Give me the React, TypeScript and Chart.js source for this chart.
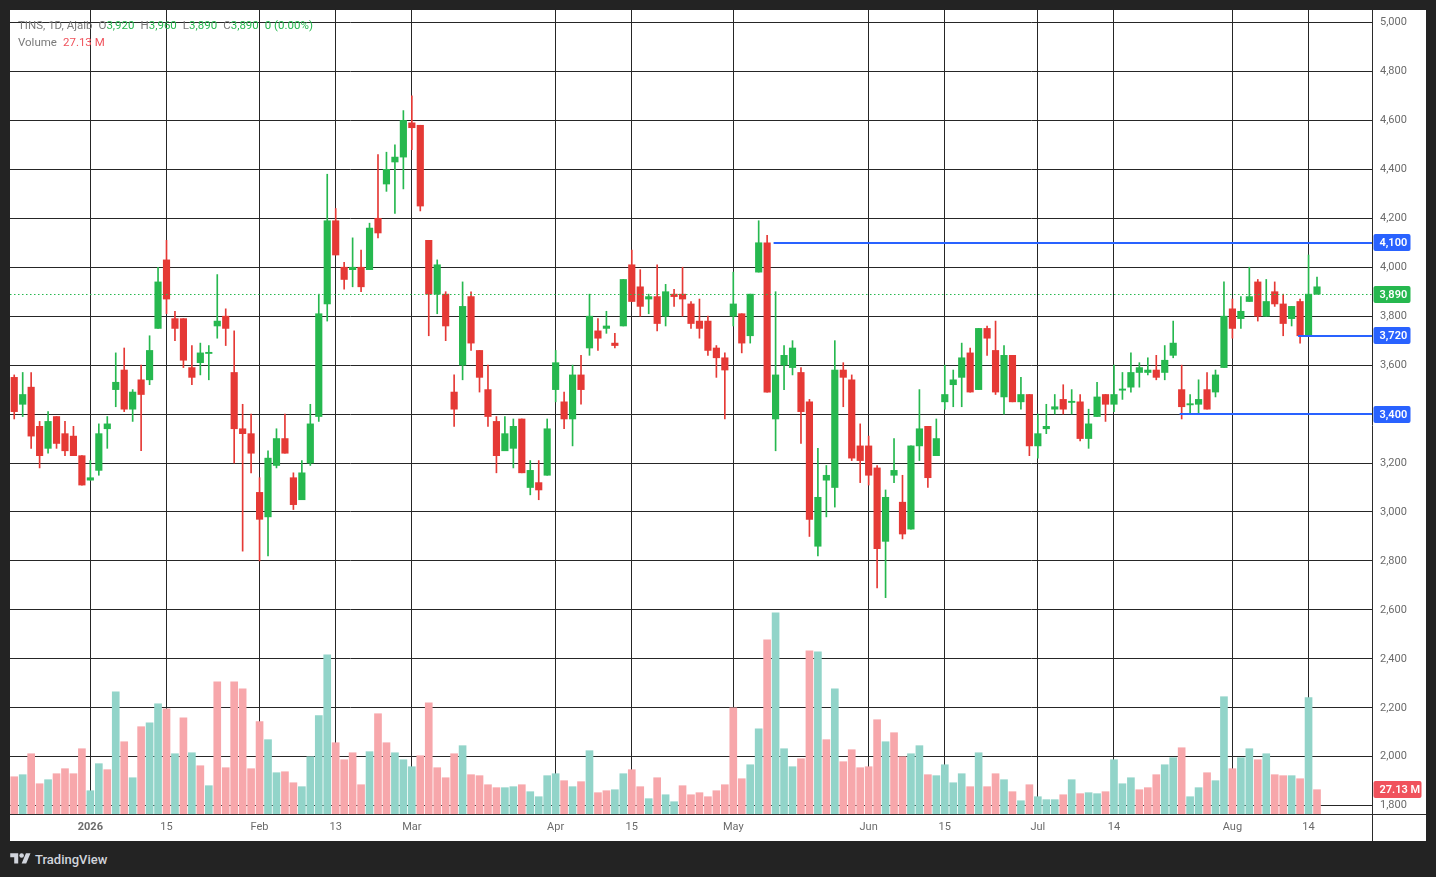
import React, { useEffect, useRef } from "react";
import { Chart, registerables } from "chart.js";

Chart.register(...registerables);

const opens = [
  3550, 3440, 3510, 3350, 3260, 3390, 3320, 3310, 3230, 3130,
  3170, 3360, 3500, 3580, 3420, 3540, 3540, 3750, 4030, 3750,
  3790, 3550, 3650, 3650, 3780, 3800, 3570, 3340, 3320, 3080,
  2980, 3190, 3300, 3140, 3050, 3200, 3390, 3850, 4190, 4000,
  4000, 4000, 3990, 4200, 4400, 4430, 4450, 4570, 4580, 4110,
  4010, 3890, 3490, 3600, 3880, 3660, 3500, 3370, 3250, 3260,
  3380, 3100, 3090, 3150, 3500, 3450, 3380, 3560, 3670, 3740,
  3760, 3680, 3760, 4010, 3920, 3870, 3880, 3800, 3880, 3890,
  3850, 3780, 3780, 3670, 3630, 3850, 3810, 3720, 3980, 4100,
  3380, 3600, 3590, 3570, 3450, 2860, 3150, 3100, 3580, 3540,
  3270, 3270, 3180, 2880, 3170, 3040, 2930, 3270, 3350, 3230,
  3450, 3520, 3550, 3650, 3500, 3750, 3660, 3470, 3640, 3450,
  3480, 3270, 3340, 3420, 3460, 3450, 3450, 3300, 3390, 3480,
  3440, 3500, 3510, 3590, 3580, 3580, 3570, 3640, 3500, 3440,
  3440, 3500, 3490, 3590, 3830, 3790, 3860, 3940, 3800, 3900,
  3850, 3790, 3860, 3720, 3920,
];

const highs = [
  3560, 3570, 3570, 3370, 3410, 3390, 3370, 3350, 3230, 3210,
  3360, 3390, 3650, 3670, 3500, 3600, 3720, 4000, 4110, 3820,
  3790, 3680, 3690, 3680, 3970, 3830, 3740, 3440, 3400, 3140,
  3250, 3340, 3400, 3160, 3210, 3440, 3890, 4380, 4240, 4020,
  4120, 4070, 4180, 4460, 4470, 4500, 4640, 4700, 4580, 4110,
  4030, 3900, 3560, 3940, 3900, 3660, 3600, 3390, 3390, 3380,
  3380, 3210, 3210, 3380, 3660, 3490, 3600, 3640, 3890, 3790,
  3820, 3730, 3950, 4070, 3990, 3890, 4010, 3930, 3910, 4000,
  3860, 3870, 3800, 3680, 3650, 3980, 3810, 3890, 4190, 4130,
  3900, 3680, 3700, 3590, 3460, 3260, 3190, 3700, 3610, 3560,
  3360, 3310, 3190, 3090, 3300, 3150, 3270, 3500, 3350, 3380,
  3600, 3580, 3690, 3670, 3750, 3760, 3780, 3680, 3640, 3550,
  3480, 3400, 3440, 3480, 3520, 3500, 3480, 3420, 3530, 3480,
  3600, 3570, 3650, 3610, 3630, 3640, 3680, 3780, 3600, 3480,
  3540, 3570, 3580, 3940, 3870, 3880, 4000, 3950, 3950, 3940,
  3890, 3840, 3870, 4050, 3960,
];

const lows = [
  3380, 3390, 3260, 3180, 3240, 3260, 3230, 3230, 3110, 3130,
  3150, 3260, 3430, 3410, 3370, 3250, 3520, 3750, 3810, 3700,
  3590, 3520, 3560, 3540, 3710, 3680, 3200, 2840, 3160, 2800,
  2820, 3180, 3240, 3010, 3050, 3190, 3370, 3780, 4050, 3910,
  3920, 3900, 3990, 4120, 4310, 4220, 4320, 4480, 4230, 3720,
  3810, 3700, 3350, 3540, 3660, 3490, 3350, 3160, 3250, 3180,
  3160, 3070, 3050, 3150, 3450, 3340, 3270, 3440, 3640, 3660,
  3730, 3670, 3760, 3860, 3800, 3810, 3740, 3760, 3840, 3800,
  3750, 3710, 3640, 3550, 3380, 3760, 3650, 3690, 3980, 3490,
  3250, 3500, 3560, 3280, 2900, 2820, 2980, 3020, 3430, 3210,
  3120, 3110, 2690, 2650, 3120, 2890, 2930, 3210, 3100, 3230,
  3420, 3430, 3430, 3490, 3500, 3640, 3480, 3400, 3450, 3420,
  3230, 3220, 3320, 3400, 3400, 3400, 3290, 3260, 3390, 3370,
  3410, 3460, 3490, 3510, 3560, 3540, 3540, 3630, 3380, 3400,
  3400, 3420, 3470, 3590, 3710, 3750, 3860, 3780, 3800, 3840,
  3720, 3760, 3690, 3720, 3890,
];

const closes = [
  3410, 3480, 3310, 3230, 3370, 3280, 3250, 3230, 3110, 3140,
  3320, 3340, 3530, 3420, 3490, 3480, 3660, 3940, 3870, 3790,
  3620, 3590, 3610, 3650, 3760, 3750, 3340, 3320, 3240, 2970,
  3220, 3300, 3240, 3030, 3160, 3360, 3810, 4190, 4050, 3950,
  3990, 3920, 4160, 4140, 4340, 4450, 4600, 4590, 4250, 3890,
  3890, 3760, 3420, 3840, 3690, 3550, 3390, 3230, 3320, 3350,
  3160, 3170, 3120, 3340, 3610, 3380, 3560, 3500, 3800, 3710,
  3750, 3690, 3950, 3860, 3840, 3880, 3770, 3900, 3890, 3870,
  3770, 3750, 3660, 3630, 3580, 3800, 3690, 3890, 4100, 3490,
  3560, 3640, 3670, 3410, 2970, 3060, 3130, 3580, 3550, 3220,
  3210, 3150, 2850, 3060, 3150, 2910, 3270, 3340, 3140, 3300,
  3480, 3540, 3630, 3490, 3750, 3710, 3490, 3640, 3450, 3480,
  3270, 3320, 3350, 3430, 3420, 3450, 3300, 3360, 3470, 3440,
  3480, 3500, 3570, 3570, 3570, 3550, 3620, 3690, 3430, 3440,
  3460, 3420, 3560, 3800, 3750, 3820, 3880, 3800, 3860, 3850,
  3770, 3840, 3720, 3890, 3890,
];

// volume in millions of shares
const volumesM = [
  41.6, 43.9, 67.3, 33.8, 38.3, 45.0, 50.6, 45.0, 72.9, 26.0,
  56.2, 49.5, 136.5, 80.7, 40.5, 97.5, 101.9, 123.1, 117.6, 67.3,
  107.5, 68.4, 53.9, 31.6, 147.7, 51.7, 147.7, 139.9, 50.6, 103.1,
  83.0, 46.1, 47.2, 34.9, 30.5, 64.0, 109.8, 177.9, 79.6, 60.6,
  68.4, 32.7, 69.6, 112.0, 79.6, 68.4, 60.6, 52.8, 65.1, 124.3,
  51.7, 40.5, 67.3, 76.3, 43.9, 42.8, 32.7, 29.4, 29.4, 30.5,
  32.7, 24.9, 19.3, 42.8, 45.0, 37.2, 30.5, 36.1, 70.7, 23.8,
  26.0, 27.1, 45.0, 49.5, 30.5, 17.1, 40.5, 21.5, 13.7, 31.6,
  21.5, 23.8, 19.3, 26.0, 32.7, 118.7, 39.4, 55.0, 95.2, 194.6,
  224.7, 72.9, 52.8, 61.7, 182.3, 181.2, 83.0, 139.9, 58.4, 71.8,
  51.7, 52.8, 105.3, 80.7, 90.8, 64.0, 67.3, 76.3, 43.9, 42.8,
  55.0, 34.9, 45.0, 30.5, 68.4, 30.5, 45.0, 38.3, 24.9, 14.8,
  32.7, 19.3, 16.0, 16.0, 21.5, 38.3, 22.7, 23.8, 22.7, 24.9,
  60.6, 33.8, 40.5, 27.1, 29.4, 43.9, 55.0, 62.9, 74.0, 19.3,
  29.4, 46.1, 37.2, 131.0, 50.6, 62.9, 72.9, 60.6, 67.3, 43.9,
  42.8, 42.8, 39.4, 129.9, 27.13,
];

const timeTickIndex = [9, 18, 29, 38, 47, 64, 73, 85, 101, 110, 121, 130, 144, 153];
const timeTickLabels = ["2026", "15", "Feb", "13", "Mar", "Apr", "15", "May", "Jun", "15", "Jul", "14", "Aug", "14"];
const priceTicks = [1800, 2000, 2200, 2400, 2600, 2800, 3000, 3200, 3400, 3600, 3800, 4000, 4200, 4400, 4600, 4800, 5000];
const rayPrices = [4100, 3720, 3400];
const rayStartIndex = [90, 152, 138];
const symbolTitle = "TINS, 1D, Ajaib";

const UP = "#26b84f";
const DOWN = "#e53935";
const VOL_UP = "#92d4c9";
const VOL_DOWN = "#f7a7ab";
const BLUE = "#2962ff";
const GRID = "#262626";
const AXIS_TEXT = "#6b6b6b";
const FONT = "Roboto, 'Noto Sans', sans-serif";

const fmt = (v: number) => v.toLocaleString("en-US");

const candleUp = closes.map((c, i) => (i === 0 ? c >= opens[i] : c >= closes[i - 1]));
const volUp = closes.map((c, i) => c >= opens[i]);

function App() {
  const canvasRef = useRef<HTMLCanvasElement | null>(null);

  useEffect(() => {
    const canvas = canvasRef.current;
    if (!canvas) return;
    const last = closes.length - 1;

    const overlay = {
      id: "tvOverlay",
      afterDatasetsDraw(chart: any) {
        const { ctx, chartArea, scales } = chart;
        const xs = scales.x;
        const ys = scales.y;
        ctx.save();
        // last price dotted line
        const yl = Math.round(ys.getPixelForValue(closes[last])) + 0.5;
        ctx.strokeStyle = UP;
        ctx.lineWidth = 1;
        ctx.setLineDash([1.5, 2.5]);
        ctx.beginPath();
        ctx.moveTo(chartArea.left, yl);
        ctx.lineTo(chartArea.right, yl);
        ctx.stroke();
        ctx.setLineDash([]);
        // horizontal rays
        ctx.strokeStyle = BLUE;
        ctx.lineWidth = 2;
        rayPrices.forEach((p, i) => {
          const py = Math.round(ys.getPixelForValue(p));
          ctx.beginPath();
          ctx.moveTo(xs.getPixelForValue(rayStartIndex[i]) - 2, py);
          ctx.lineTo(chartArea.right, py);
          ctx.stroke();
        });
        ctx.restore();
      },
      afterDraw(chart: any) {
        const { ctx, chartArea, scales } = chart;
        const ys = scales.y;
        const yv = scales.yv;
        ctx.save();
        // axis borders
        ctx.strokeStyle = "#2b2b2b";
        ctx.lineWidth = 1;
        const rx = Math.round(chartArea.right) + 0.5;
        ctx.beginPath();
        ctx.moveTo(rx, 0);
        ctx.lineTo(rx, chart.height);
        ctx.stroke();
        const by = Math.round(chartArea.bottom) + 0.5;
        ctx.beginPath();
        ctx.moveTo(0, by);
        ctx.lineTo(chart.width, by);
        ctx.stroke();

        const tag = (py: number, text: string, bg: string, w: number) => {
          const h = 17;
          const x0 = chartArea.right + 1.5;
          const y0 = Math.round(py - h / 2);
          ctx.fillStyle = bg;
          ctx.beginPath();
          if ((ctx as any).roundRect) (ctx as any).roundRect(x0, y0, w, h, 2);
          else ctx.rect(x0, y0, w, h);
          ctx.fill();
          ctx.fillStyle = "#ffffff";
          ctx.font = `600 11px ${FONT}`;
          ctx.textAlign = "left";
          ctx.textBaseline = "middle";
          ctx.fillText(text, x0 + 6, y0 + h / 2 + 0.5);
        };
        rayPrices.forEach((p) => tag(ys.getPixelForValue(p), fmt(p), BLUE, 37));
        tag(ys.getPixelForValue(closes[last]), fmt(closes[last]), UP, 37);
        tag(yv.getPixelForValue(volumesM[last]), volumesM[last].toFixed(2) + " M", "#f0525c", 48);
        ctx.restore();
      },
    };

    const chart = new Chart(canvas, {
      type: "bar",
      data: {
        datasets: [
          {
            label: "Volume",
            data: volumesM.map((v, i) => ({ x: i, y: v })),
            yAxisID: "yv",
            backgroundColor: volUp.map((u) => (u ? VOL_UP : VOL_DOWN)),
            barThickness: 7,
            grouped: false,
            order: 3,
          } as any,
          {
            label: "Wick",
            data: highs.map((h, i) => ({ x: i, y: [lows[i], h] })),
            yAxisID: "y",
            backgroundColor: candleUp.map((u) => (u ? UP : DOWN)),
            barThickness: 1,
            grouped: false,
            order: 2,
          } as any,
          {
            label: "Body",
            data: opens.map((o, i) => {
              const lo = Math.min(o, closes[i]);
              const hi = Math.max(o, closes[i]);
              const mid = (lo + hi) / 2;
              return { x: i, y: hi - lo < 5 ? [mid - 2.5, mid + 2.5] : [lo, hi] };
            }),
            yAxisID: "y",
            backgroundColor: candleUp.map((u) => (u ? UP : DOWN)),
            barThickness: 6.5,
            grouped: false,
            order: 1,
          } as any,
        ],
      },
      options: {
        animation: false,
        responsive: true,
        maintainAspectRatio: false,
        events: [],
        layout: { padding: 0 },
        plugins: { legend: { display: false }, tooltip: { enabled: false } },
        scales: {
          x: {
            type: "linear",
            min: -0.5,
            max: 160.5,
            offset: false,
            border: { display: false },
            grid: { color: GRID, lineWidth: 1, drawTicks: false, offset: false },
            afterBuildTicks: (scale: any) => {
              scale.ticks = timeTickIndex.map((v) => ({ value: v }));
            },
            afterFit: (scale: any) => {
              scale.height = 27;
              scale.paddingLeft = 0;
              scale.paddingRight = 0;
            },
            ticks: {
              autoSkip: false,
              maxRotation: 0,
              padding: 7,
              color: AXIS_TEXT,
              font: (c: any) => ({
                family: FONT,
                size: 11,
                weight: c.tick && c.tick.value === timeTickIndex[0] ? "bold" : "normal",
              }),
              callback: (value: any) => {
                const k = timeTickIndex.indexOf(Number(value));
                return k >= 0 ? timeTickLabels[k] : "";
              },
            },
          },
          y: {
            type: "linear",
            position: "right",
            min: 1766,
            max: 5051,
            border: { display: false },
            grid: { color: GRID, lineWidth: 1, drawTicks: false },
            afterBuildTicks: (scale: any) => {
              scale.ticks = priceTicks.map((v) => ({ value: v }));
            },
            afterFit: (scale: any) => {
              scale.width = 54;
              scale.paddingTop = 0;
              scale.paddingBottom = 0;
            },
            ticks: {
              padding: 8,
              color: AXIS_TEXT,
              font: { family: FONT, size: 11 },
              callback: (value: any) => fmt(Number(value)),
            },
          },
          yv: {
            type: "linear",
            display: false,
            min: 0,
            max: 898,
          },
        },
      } as any,
      plugins: [overlay],
    });
    return () => chart.destroy();
  }, []);

  const last = closes.length - 1;
  const chg = closes[last] - closes[last - 1];
  const chgPct = (chg / closes[last - 1]) * 100;
  const valColor = chg >= 0 ? UP : DOWN;
  const hdr: React.CSSProperties = {
    position: "absolute",
    left: 18,
    fontFamily: FONT,
    fontSize: 11.5,
    lineHeight: "14px",
    color: "#7a7a7a",
    whiteSpace: "nowrap",
    zIndex: 2,
  };
  const gap = { marginLeft: 6 };

  return (
    <div
      style={{
        position: "fixed",
        left: 0,
        top: 0,
        width: 1436,
        height: 877,
        background: "#232323",
        overflow: "hidden",
      }}
    >
      <div
        style={{
          position: "absolute",
          left: 10,
          top: 10,
          width: 1416,
          height: 831,
          background: "#ffffff",
        }}
      >
        <canvas ref={canvasRef} />
      </div>
      <div style={{ ...hdr, top: 18 }}>
        <span>{symbolTitle}</span>
        <span style={gap}>O</span>
        <span style={{ color: valColor }}>{fmt(opens[last])}</span>
        <span style={gap}>H</span>
        <span style={{ color: valColor }}>{fmt(highs[last])}</span>
        <span style={gap}>L</span>
        <span style={{ color: valColor }}>{fmt(lows[last])}</span>
        <span style={gap}>C</span>
        <span style={{ color: valColor }}>{fmt(closes[last])}</span>
        <span style={{ ...gap, color: valColor }}>
          {fmt(chg)} ({chgPct.toFixed(2)}%)
        </span>
      </div>
      <div style={{ ...hdr, top: 35 }}>
        <span>Volume</span>
        <span style={{ ...gap, color: "#f0525c" }}>{volumesM[last].toFixed(2)} M</span>
      </div>
      <div
        style={{
          position: "absolute",
          left: 10,
          top: 851,
          display: "flex",
          alignItems: "center",
          gap: 4,
          color: "#d1d4dc",
          fontFamily: FONT,
          fontSize: 13,
          fontWeight: 500,
        }}
      >
        <svg width="21" height="16" viewBox="0 0 36 28">
          <path d="M14 22H7V11H0V4h14v18zM28 22h-8l7.5-18h8L28 22z" fill="#d1d4dc" />
          <circle cx="20" cy="8" r="4" fill="#d1d4dc" />
        </svg>
        <span>TradingView</span>
      </div>
    </div>
  );
}

export default App;
